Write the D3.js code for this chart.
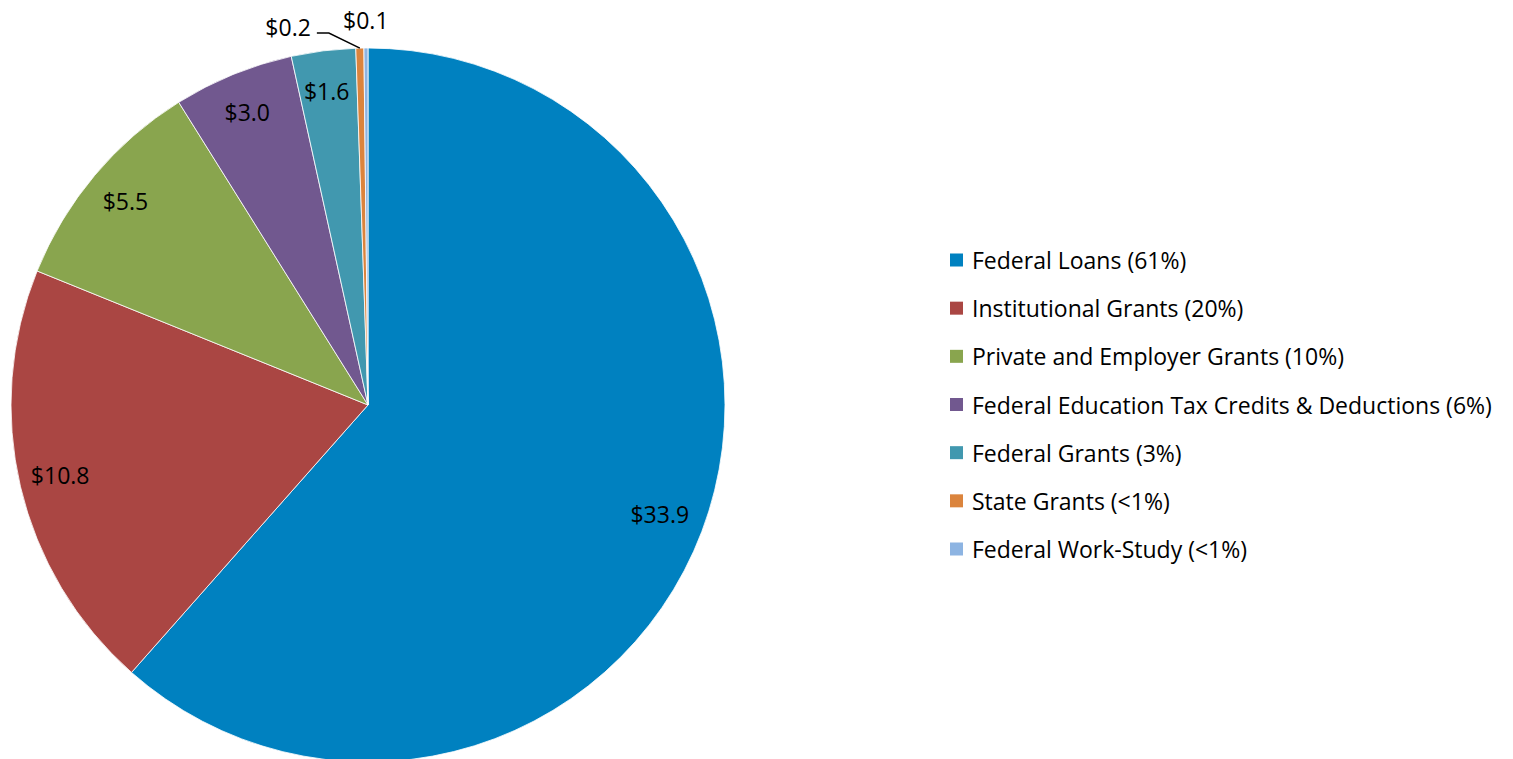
<!DOCTYPE html>
<html>
<head>
<meta charset="utf-8">
<script src="https://cdn.jsdelivr.net/npm/d3@7"></script>
<style>
  html, body { margin: 0; padding: 0; background: #fff; overflow: hidden; }
  svg { display: block; }
  text { font-family: "Open Sans", sans-serif; fill: #000; }
</style>
</head>
<body>
<svg id="chart" width="1513" height="759"></svg>
<script>
// ---- data ----
const categories = [
  "Federal Loans",
  "Institutional Grants",
  "Private and Employer Grants",
  "Federal Education Tax Credits & Deductions",
  "Federal Grants",
  "State Grants",
  "Federal Work-Study"
];
const values = [33.9, 10.8, 5.5, 3.0, 1.6, 0.2, 0.1];
const valueLabels = ["$33.9", "$10.8", "$5.5", "$3.0", "$1.6", "$0.2", "$0.1"];
const percentLabels = ["(61%)", "(20%)", "(10%)", "(6%)", "(3%)", "(<1%)", "(<1%)"];
const colors = ["#0081C0", "#AA4643", "#89A54E", "#71588F", "#4198AF", "#DB843D", "#8DB4E2"];

// ---- layout ----
const svg = d3.select("#chart");
const cx = 368, cy = 405, r = 357;
const labelR = r * 0.88;
const fs = "23px";

const data = categories.map((c, i) => ({ name: c, value: values[i], label: valueLabels[i], pct: percentLabels[i], color: colors[i] }));

const pie = d3.pie().value(d => d.value).sort(null);
const arcs = pie(data);
const arc = d3.arc().innerRadius(0).outerRadius(r);
const labelArc = d3.arc().innerRadius(labelR).outerRadius(labelR);

const g = svg.append("g").attr("transform", `translate(${cx},${cy})`);

g.selectAll("path.slice")
  .data(arcs)
  .enter().append("path")
  .attr("class", "slice")
  .attr("d", arc)
  .attr("fill", d => d.data.color)
  .attr("stroke", "#fff")
  .attr("stroke-width", 0.8);

// inside labels for large slices
const insideArcs = arcs.filter(d => d.data.value >= 1);
g.selectAll("text.vlabel")
  .data(insideArcs)
  .enter().append("text")
  .attr("class", "vlabel")
  .attr("x", d => labelArc.centroid(d)[0] - 2)
  .attr("y", d => labelArc.centroid(d)[1] - 2)
  .attr("text-anchor", "middle")
  .attr("dominant-baseline", "central")
  .style("font-size", fs)
  .text(d => d.data.label);

// outside labels for tiny slices
function edgePoint(d, rad) {
  const a = (d.startAngle + d.endAngle) / 2;
  return [rad * Math.sin(a), -rad * Math.cos(a)];
}
const stateArc = arcs[5];
const wsArc = arcs[6];

// State Grants: leader line with elbow
const p0 = edgePoint(stateArc, r);
const p1 = [p0[0] - 31, p0[1] - 15];
const p2 = [p1[0] - 12, p1[1]];
g.append("polyline")
  .attr("points", [p0, p1, p2].map(p => p.join(",")).join(" "))
  .attr("fill", "none")
  .attr("stroke", "#000")
  .attr("stroke-width", 1.5);
g.append("text")
  .attr("x", p2[0] - 6)
  .attr("y", p2[1] - 6)
  .attr("text-anchor", "end")
  .attr("dominant-baseline", "central")
  .style("font-size", fs)
  .text(stateArc.data.label);

// Federal Work-Study label above
const q = edgePoint(wsArc, r + 28);
g.append("text")
  .attr("x", q[0])
  .attr("y", q[1])
  .attr("text-anchor", "middle")
  .attr("dominant-baseline", "central")
  .style("font-size", fs)
  .text(wsArc.data.label);

// ---- legend ----
const legendY = d3.scalePoint().domain(categories).range([260, 549]);
const lg = svg.append("g");
const items = lg.selectAll("g.item").data(data).enter().append("g")
  .attr("class", "item")
  .attr("transform", d => `translate(950,${legendY(d.name)})`);
items.append("rect")
  .attr("x", 0).attr("y", -6.5)
  .attr("width", 13).attr("height", 13)
  .attr("fill", d => d.color);
items.append("text")
  .attr("x", 22).attr("y", 0)
  .attr("dominant-baseline", "central")
  .style("font-size", fs)
  .text(d => `${d.name} ${d.pct}`);
</script>
</body>
</html>
